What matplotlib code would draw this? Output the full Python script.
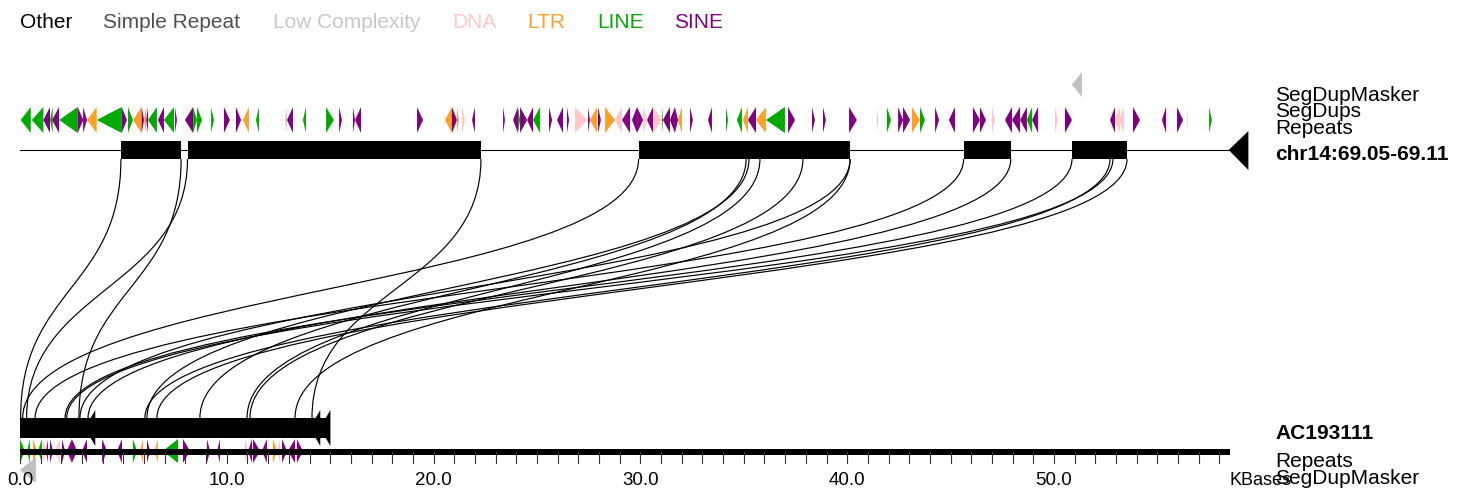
import matplotlib
matplotlib.use('Agg')
import matplotlib.pyplot as plt
from matplotlib.patches import Polygon, Rectangle, PathPatch
from matplotlib.path import Path

W, H = 1465, 493
PX_PER_KB = 20.68

# legend / repeat classes
legend_names = ['Other', 'Simple Repeat', 'Low Complexity', 'DNA', 'LTR', 'LINE', 'SINE']
legend_colors = ['#000000', '#505050', '#c8c8c8', '#ffc8c8', '#ff9f2a', '#00aa00', '#800080']
class_keys = ['Other', 'Simple', 'Low', 'DNA', 'LTR', 'LINE', 'SINE']

top_label = 'chr14:69.05-69.11'
bottom_label = 'AC193111'
ruler_len = 58.5          # kb
tick_labels = ['0.0', '10.0', '20.0', '30.0', '40.0', '50.0']
tick_values = [0, 10, 20, 30, 40, 50]

# segdups (kb)
top_segdups = [(4.88, 7.79), (8.10, 22.29), (29.91, 40.14), (45.63, 47.91), (50.87, 53.53)]
bottom_segdups = [(0.0, 15.0)]
bottom_heads = [3.14, 14.02, 14.51]

# links: position on chr14 -> position on AC193111 (kb)
link_top = [4.88, 7.79, 8.10, 22.29, 29.91, 35.11, 35.25, 35.78, 37.86, 40.14,
            40.14, 45.63, 47.91, 50.87, 52.71, 52.85, 53.53]
link_bottom = [0.03, 2.85, 0.32, 14.12, 0.13, 8.70, 6.14, 10.98, 11.12, 13.30,
               2.90, 0.73, 3.29, 2.18, 6.04, 2.26, 6.62]

# segdupmasker (start, end, strand)
top_masker = [(50.87, 51.35, '-')]
bottom_masker = [(0.0, 0.77, '-')]

# repeats (start kb, end kb, class, strand)
top_repeats = [
    (0.03, 0.52, 'LINE', '-'), (0.57, 1.13, 'LINE', '-'), (1.13, 1.45, 'SINE', '-'),
    (1.45, 1.58, 'LINE', '-'), (1.55, 1.89, 'SINE', '-'), (1.89, 2.79, 'LINE', '-'),
    (2.79, 3.06, 'SINE', '+'), (3.05, 3.24, 'SINE', '+'), (3.24, 3.71, 'LTR', '-'),
    (3.71, 4.92, 'LINE', '-'), (4.92, 5.17, 'SINE', '+'), (5.22, 5.46, 'LINE', '+'),
    (5.46, 5.88, 'LTR', '-'), (5.88, 6.00, 'SINE', '+'), (6.00, 6.10, 'LTR', '-'),
    (6.10, 6.19, 'SINE', '-'), (6.19, 6.62, 'LINE', '-'), (6.67, 6.96, 'SINE', '-'),
    (6.96, 7.45, 'LINE', '-'), (7.50, 7.59, 'SINE', '+'), (7.98, 8.37, 'SINE', '-'),
    (8.37, 8.56, 'LINE', '+'), (8.56, 8.80, 'LINE', '+'), (9.24, 9.38, 'LINE', '+'),
    (9.86, 10.15, 'SINE', '+'), (10.44, 10.69, 'SINE', '+'), (10.78, 11.07, 'LTR', '-'),
    (11.41, 11.56, 'LINE', '-'), (12.81, 12.91, 'Low', '-'), (12.91, 13.20, 'SINE', '-'),
    (13.68, 13.83, 'LINE', '-'), (14.80, 15.18, 'LINE', '+'), (15.43, 15.57, 'SINE', '+'),
    (16.10, 16.20, 'SINE', '+'), (16.20, 16.49, 'SINE', '-'), (19.20, 19.49, 'SINE', '+'),
    (20.55, 20.89, 'LTR', '-'), (20.89, 21.13, 'SINE', '+'), (21.13, 21.23, 'LTR', '+'),
    (21.37, 21.52, 'DNA', '+'), (21.86, 22.00, 'SINE', '-'),
    (23.36, 23.45, 'SINE', '+'), (23.84, 24.08, 'SINE', '-'), (24.08, 24.18, 'LINE', '+'),
    (24.18, 24.52, 'SINE', '+'), (24.52, 24.81, 'SINE', '-'), (24.81, 25.15, 'LINE', '-'),
    (25.58, 25.73, 'SINE', '+'), (25.97, 26.26, 'SINE', '-'), (26.45, 26.55, 'SINE', '+'),
    (26.84, 27.42, 'DNA', '+'), (27.47, 27.56, 'SINE', '+'), (27.56, 27.90, 'LTR', '-'),
    (27.95, 28.09, 'SINE', '+'), (28.29, 28.77, 'LTR', '+'), (28.77, 29.11, 'DNA', '-'),
    (29.11, 29.50, 'SINE', '-'), (29.59, 29.84, 'SINE', '-'), (29.84, 30.13, 'SINE', '+'),
    (30.13, 30.32, 'DNA', '+'), (30.32, 30.61, 'SINE', '-'), (30.61, 31.04, 'DNA', '+'),
    (31.04, 31.09, 'LINE', '+'), (31.09, 31.43, 'SINE', '-'), (31.43, 31.67, 'SINE', '-'),
    (31.67, 31.82, 'SINE', '+'), (31.82, 32.01, 'LTR', '-'), (32.40, 32.54, 'SINE', '+'),
    (33.27, 33.46, 'SINE', '-'), (34.14, 34.24, 'LINE', '+'), (34.67, 34.91, 'LINE', '-'),
    (34.96, 35.20, 'LTR', '-'), (35.20, 35.59, 'SINE', '-'), (35.59, 36.07, 'LTR', '-'),
    (36.07, 36.99, 'LINE', '-'), (37.14, 37.48, 'SINE', '+'), (38.30, 38.44, 'SINE', '+'),
    (38.83, 38.97, 'SINE', '+'), (40.09, 40.47, 'SINE', '+'), (41.44, 41.49, 'Low', '+'),
    (41.92, 42.12, 'LINE', '+'), (42.46, 42.70, 'SINE', '+'), (42.70, 43.04, 'SINE', '+'),
    (43.13, 43.52, 'LTR', '+'), (43.52, 43.76, 'LINE', '+'), (44.25, 44.44, 'SINE', '+'),
    (44.92, 45.21, 'SINE', '-'), (46.08, 46.42, 'SINE', '+'), (46.42, 46.71, 'SINE', '+'),
    (47.00, 47.15, 'DNA', '+'), (47.63, 47.97, 'SINE', '-'), (47.97, 48.36, 'SINE', '-'),
    (48.36, 48.69, 'SINE', '-'), (48.69, 48.94, 'LINE', '-'), (48.94, 49.23, 'SINE', '-'),
    (50.05, 50.19, 'DNA', '+'), (50.53, 50.87, 'SINE', '+'), (52.71, 52.95, 'SINE', '-'),
    (52.95, 53.19, 'DNA', '-'), (53.14, 53.38, 'DNA', '-'), (53.82, 54.16, 'SINE', '+'),
    (55.22, 55.42, 'SINE', '-'), (55.95, 56.24, 'SINE', '+'), (56.43, 56.48, 'DNA', '+'),
    (57.50, 57.64, 'LINE', '+'),
]

bottom_repeats = [
    (0.00, 0.24, 'LINE', '+'), (0.34, 0.48, 'LINE', '-'), (0.63, 0.82, 'LTR', '+'),
    (0.87, 1.06, 'LINE', '-'), (1.11, 1.26, 'DNA', '+'), (1.26, 1.35, 'SINE', '-'),
    (1.45, 1.60, 'SINE', '+'), (1.69, 1.93, 'DNA', '-'), (2.03, 2.18, 'SINE', '+'),
    (2.27, 2.51, 'SINE', '-'), (2.51, 2.76, 'SINE', '+'), (3.00, 3.24, 'SINE', '-'),
    (3.97, 4.21, 'SINE', '+'), (4.69, 4.93, 'SINE', '-'), (5.46, 5.66, 'LINE', '+'),
    (5.80, 5.95, 'LTR', '-'), (6.14, 6.29, 'SINE', '+'), (6.53, 6.67, 'LTR', '-'),
    (6.91, 7.64, 'LINE', '-'), (7.88, 8.22, 'SINE', '+'), (9.04, 9.19, 'SINE', '+'),
    (9.53, 9.67, 'SINE', '-'), (10.88, 11.03, 'DNA', '+'), (11.03, 11.22, 'SINE', '-'),
    (11.27, 11.61, 'SINE', '+'), (11.70, 11.94, 'SINE', '-'), (12.23, 12.43, 'LTR', '+'),
    (12.43, 12.57, 'DNA', '-'), (12.67, 12.91, 'SINE', '+'), (12.96, 13.30, 'SINE', '-'),
    (13.39, 13.68, 'SINE', '+'),
]

# ---- layout (pixels) ----
FONT = 'Liberation Sans'
LABEL_PX = 1275


def px2kb(px):
    return (px - 20) / PX_PER_KB


def tri(ax, s, e, strand, yc, h, color):
    if strand == '-':
        pts = [(s, yc), (e, yc - h), (e, yc + h)]
    else:
        pts = [(s, yc - h), (s, yc + h), (e, yc)]
    ax.add_patch(Polygon(pts, closed=True, facecolor=color, edgecolor='none', lw=0))


def link(ax, x0, y0, x1, y1):
    ym = (y0 + y1) / 2
    p = Path([(x0, y0), (x0, ym), (x1, ym), (x1, y1)],
             [Path.MOVETO, Path.CURVE4, Path.CURVE4, Path.CURVE4])
    ax.add_patch(PathPatch(p, facecolor='none', edgecolor='black', lw=0.85))


colors = dict(zip(class_keys, legend_colors))

fig = plt.figure(figsize=(W / 100, H / 100), dpi=100)
ax = fig.add_axes([0, 0, 1, 1])
ax.set_xlim(px2kb(0), px2kb(W))
ax.set_ylim(H, 0)
ax.axis('off')

# legend
legend_x = [20, 103, 273, 452, 527, 597, 674]
for name, c, lx in zip(legend_names, legend_colors, legend_x):
    ax.text(px2kb(lx), 28, name, color=c, fontsize=15, family=FONT, va='baseline', ha='left')

# links
for t, b in zip(link_top, link_bottom):
    link(ax, t, 159, b, 418)

# top track
ax.plot([0, ruler_len - 0.05], [150, 150], color='black', lw=0.8)
ax.add_patch(Polygon([(ruler_len - 0.05, 150), (ruler_len + 0.9, 131), (ruler_len + 0.9, 170)],
                     closed=True, facecolor='black', edgecolor='none'))
for s, e in top_segdups:
    ax.add_patch(Rectangle((s, 141), e - s, 18, facecolor='black', edgecolor='none'))
for s, e, cls, st in top_repeats:
    tri(ax, s, e, st, 120, 13, colors[cls])
for s, e, st in top_masker:
    tri(ax, s, e, st, 84.5, 12.5, '#c0c0c0')

# bottom track
for s, e in bottom_segdups:
    ax.add_patch(Rectangle((s, 418), e - s, 20, facecolor='black', edgecolor='none'))
for hx in bottom_heads:
    tri(ax, hx, hx + 0.5, '-', 428, 18, 'black')
for s, e, cls, st in bottom_repeats:
    tri(ax, s, e, st, 451, 12, colors[cls])
ax.add_patch(Rectangle((0, 448.5), ruler_len, 6.5, facecolor='black', edgecolor='none'))
for k in range(0, int(ruler_len) + 1):
    ax.plot([k, k], [452, 463], color='#333333', lw=0.8)
for s, e, st in bottom_masker:
    tri(ax, s, e, st, 470, 13, '#c0c0c0')
for v, lab in zip(tick_values, tick_labels):
    ax.text(v, 485, lab, fontsize=13.5, family=FONT, ha='center', va='baseline')
ax.text(ruler_len, 485, 'KBases', fontsize=13, family=FONT, ha='left', va='baseline')

# track labels
lx = px2kb(LABEL_PX)
ax.text(lx, 101, 'SegDupMasker', fontsize=15, family=FONT, va='baseline')
ax.text(lx, 117, 'SegDups', fontsize=15, family=FONT, va='baseline')
ax.text(lx, 134, 'Repeats', fontsize=15, family=FONT, va='baseline')
ax.text(lx, 160, top_label, fontsize=15, family=FONT, weight='bold', va='baseline')
ax.text(lx, 439, bottom_label, fontsize=15, family=FONT, weight='bold', va='baseline')
ax.text(lx, 467, 'Repeats', fontsize=15, family=FONT, va='baseline')
ax.text(lx, 484, 'SegDupMasker', fontsize=15, family=FONT, va='baseline')

fig.savefig('out.png', dpi=100)
